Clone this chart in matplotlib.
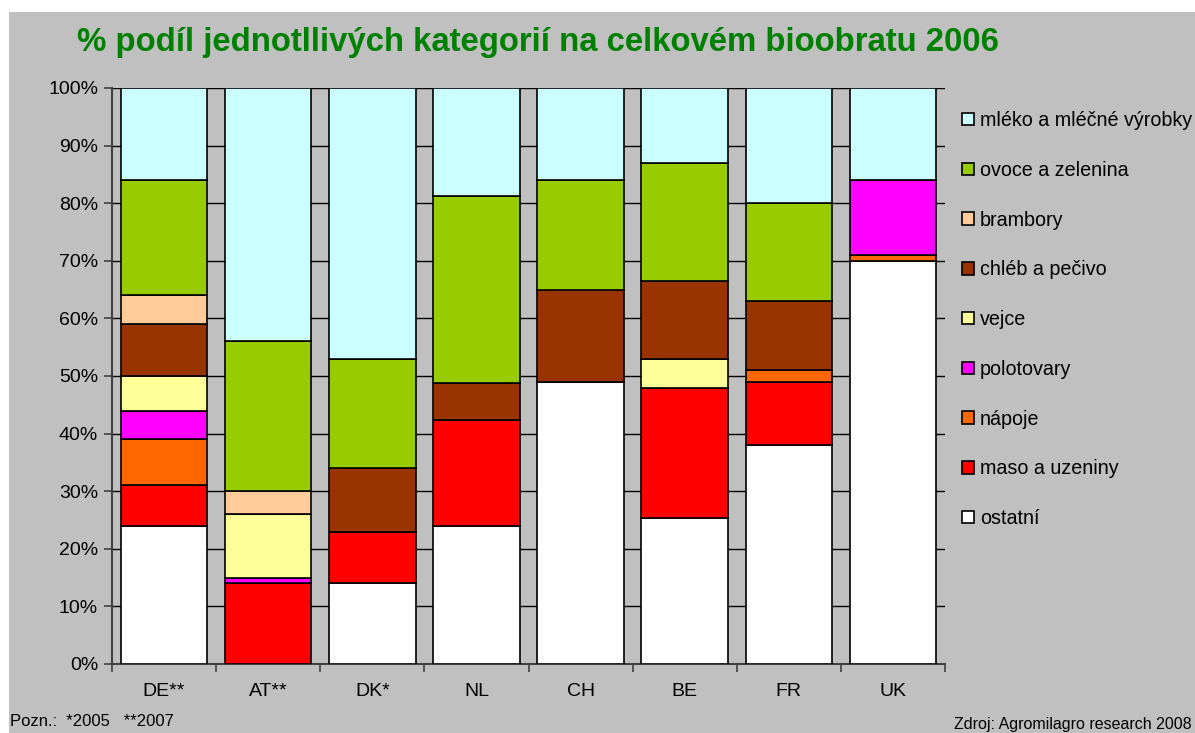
import numpy as np
import matplotlib.pyplot as plt
from matplotlib.patches import Patch, Rectangle

countries = ['DE**', 'AT**', 'DK*', 'NL', 'CH', 'BE', 'FR', 'UK']

# stacked from bottom to top
ostatni    = [24, 0, 14, 24, 49, 25.3, 38, 70]
maso       = [7, 14, 9, 18.4, 0, 22.7, 11, 0]
napoje     = [8, 0, 0, 0, 0, 0, 2, 1]
polotovary = [5, 1, 0, 0, 0, 0, 0, 13]
vejce      = [6, 11, 0, 0, 0, 5, 0, 0]
chleb      = [9, 0, 11, 6.4, 16, 13.5, 12, 0]
brambory   = [5, 4, 0, 0, 0, 0, 0, 0]
ovoce      = [20, 26, 19, 32.5, 19, 20.5, 17, 0]
mleko      = [16, 44, 47, 18.7, 16, 13, 20, 16]

series = [
    ('ostatní', ostatni, '#FFFFFF'),
    ('maso a uzeniny', maso, '#FF0000'),
    ('nápoje', napoje, '#FF6600'),
    ('polotovary', polotovary, '#FF00FF'),
    ('vejce', vejce, '#FFFF99'),
    ('chléb a pečivo', chleb, '#993300'),
    ('brambory', brambory, '#FFCC99'),
    ('ovoce a zelenina', ovoce, '#99CC00'),
    ('mléko a mléčné výrobky', mleko, '#CCFFFF'),
]

plt.rcParams['font.family'] = ['Liberation Sans', 'DejaVu Sans']

fig = plt.figure(figsize=(11.95, 7.33), dpi=100)
fig.patch.set_facecolor('white')
# gray chart area behind everything
bg = fig.add_axes([9 / 1195, 0, 1, 1 - 12 / 733], zorder=-10)
bg.axis('off')
bg.add_patch(Rectangle((0, 0), 1, 1, transform=bg.transAxes, facecolor='#C0C0C0', edgecolor='none'))

ax = fig.add_axes([112 / 1195, 69 / 733, 833 / 1195, 576 / 733])
ax.set_facecolor('#C0C0C0')

x = np.arange(len(countries))
bottom = np.zeros(len(countries))
for name, vals, col in series:
    vals = np.array(vals, dtype=float)
    ax.bar(x, vals, bottom=bottom, width=0.83, color=col, edgecolor='black',
           linewidth=1.2, zorder=3)
    bottom += vals

ax.set_xlim(-0.5, len(countries) - 0.5)
ax.set_ylim(0, 100)
ax.set_yticks(np.arange(0, 101, 10))
ax.set_yticklabels([f'{v}%' for v in range(0, 101, 10)], fontsize=14)
ax.yaxis.grid(True, color='black', linewidth=1, zorder=0)
ax.set_axisbelow(True)
ax.set_xticks(x)
ax.set_xticklabels(countries, fontsize=14)
ax.set_xticks(np.arange(-0.5, len(countries)), minor=True)
ax.tick_params(axis='x', which='major', length=0, pad=14)
ax.tick_params(axis='x', which='minor', length=6, color='#404040', width=1.2)
ax.tick_params(axis='y', length=6, color='#404040', width=1.2, pad=4)
for s in ['top', 'right']:
    ax.spines[s].set_visible(False)
for s in ['left', 'bottom']:
    ax.spines[s].set_color('#404040')
    ax.spines[s].set_linewidth(1.5)

fig.text(77 / 1195, 1 - 43 / 733, '% podíl jednotllivých kategorií na celkovém bioobratu 2006',
         fontsize=23.7, fontweight='bold', color='#008000', va='center', ha='left')

handles = [Patch(facecolor=col, edgecolor='black', linewidth=1.2) for _, _, col in series[::-1]]
labels = [name for name, _, _ in series[::-1]]
fig.legend(handles, labels, loc='upper left', bbox_to_anchor=(962 / 1195, 1 - 111 / 733),
           frameon=False, fontsize=14.2, handlelength=0.6, handleheight=0.6,
           handletextpad=0.3, labelspacing=1.56, borderaxespad=0, borderpad=0)

fig.text(10 / 1195, 1 - 722 / 733, 'Pozn.:  *2005   **2007', fontsize=12, va='center')
fig.text(1192 / 1195, 1 - 725 / 733, 'Zdroj: Agromilagro research 2008', fontsize=11.5,
         va='center', ha='right')

fig.savefig('out.png', dpi=100)
